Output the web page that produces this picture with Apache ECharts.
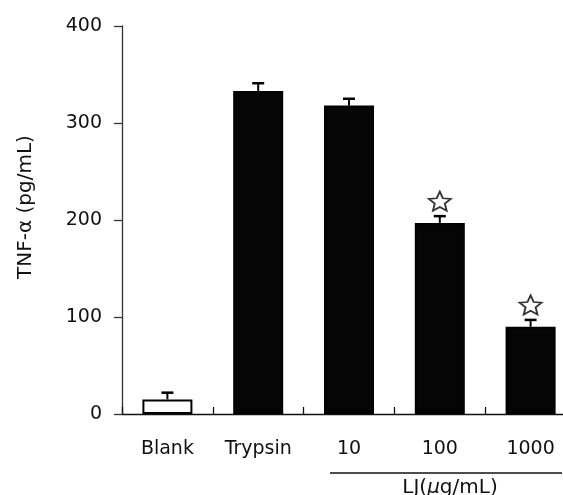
<!DOCTYPE html>
<html>
<head>
<meta charset="utf-8">
<script src="https://cdn.jsdelivr.net/npm/echarts@6/dist/echarts.min.js"></script>
<style>
  html, body { margin: 0; padding: 0; background: #fff; overflow: hidden; }
  #chart { width: 576px; height: 495px; }
</style>
</head>
<body>
<div id="chart"></div>
<script>
var categories = ['Blank', 'Trypsin', '10', '100', '1000'];
var means = [15, 333, 318, 197, 90];
var errors = [7, 8, 7, 7, 7];
var significant = [false, false, false, true, true];
var yTicks = [0, 100, 200, 300, 400];

var FONT = 'DejaVu Sans';

// five armed outline star, built as a symbol path
function starPath() {
  var pts = [];
  for (var i = 0; i < 10; i++) {
    var r = i % 2 === 0 ? 10 : 4.6;
    var a = -Math.PI / 2 + i * Math.PI / 5;
    pts.push((r * Math.cos(a)).toFixed(2) + ' ' + (r * Math.sin(a)).toFixed(2));
  }
  return 'path://M' + pts.join(' L') + ' Z';
}

var barData = means.map(function (v, i) {
  return {
    value: v,
    itemStyle: i === 0 ? { color: '#fff', borderColor: '#000', borderWidth: 2 } : {}
  };
});

var errData = means.map(function (v, i) { return [i, v, v + errors[i]]; });

var starData = [];
significant.forEach(function (s, i) {
  if (s) starData.push([categories[i], means[i] + errors[i]]);
});

var chart = echarts.init(document.getElementById('chart'));

chart.setOption({
  animation: false,
  backgroundColor: '#fff',
  grid: { left: 122, right: 0, top: 26, bottom: 81 },
  xAxis: {
    type: 'category',
    data: categories,
    axisLine: { lineStyle: { color: '#111', width: 1.3 } },
    axisTick: { show: true, inside: true, length: 7, lineStyle: { color: '#111', width: 1.3 } },
    axisLabel: { color: '#111', fontFamily: FONT, fontSize: 19, margin: 26 },
    splitLine: { show: false }
  },
  yAxis: {
    type: 'value',
    min: yTicks[0],
    max: yTicks[yTicks.length - 1],
    interval: 100,
    axisLine: { show: true, lineStyle: { color: '#333', width: 1.3 } },
    axisTick: { show: true, length: 8, lineStyle: { color: '#333', width: 1.3 } },
    axisLabel: { color: '#111', fontFamily: FONT, fontSize: 19, margin: 20 },
    splitLine: { show: false }
  },
  graphic: [
    {
      type: 'text', x: 26, y: 207, rotation: Math.PI / 2,
      style: { text: 'TNF-α (pg/mL)', fill: '#111', font: '20px "DejaVu Sans"', align: 'center', verticalAlign: 'middle' }
    },
    { type: 'line', shape: { x1: 330, y1: 473, x2: 562, y2: 473 }, style: { stroke: '#111', lineWidth: 1.5 } },
    {
      type: 'text', x: 450, y: 478,
      style: {
        text: 'LJ({i|μ}g/mL)', fill: '#111', font: '20px "DejaVu Sans"', align: 'center', verticalAlign: 'top',
        rich: { i: { fontStyle: 'italic', fontFamily: FONT, fontSize: 20, fill: '#111' } }
      }
    }
  ],
  series: [
    {
      type: 'bar',
      data: barData,
      barWidth: 50,
      itemStyle: { color: '#050505', borderColor: '#000', borderWidth: 1.5 },
      z: 2
    },
    {
      type: 'custom',
      data: errData,
      z: 3,
      renderItem: function (params, api) {
        var lo = api.coord([api.value(0), api.value(1)]);
        var hi = api.coord([api.value(0), api.value(2)]);
        return {
          type: 'group',
          children: [
            { type: 'line', shape: { x1: lo[0], y1: lo[1], x2: hi[0], y2: hi[1] }, style: { stroke: '#000', lineWidth: 2 } },
            { type: 'line', shape: { x1: hi[0] - 6, y1: hi[1], x2: hi[0] + 6, y2: hi[1] }, style: { stroke: '#000', lineWidth: 2.5 } }
          ]
        };
      }
    },
    {
      type: 'scatter',
      data: starData,
      symbol: starPath(),
      symbolSize: [22, 19],
      symbolOffset: [0, -15],
      itemStyle: { color: '#fff', borderColor: '#000', borderWidth: 1.8 },
      z: 4
    }
  ]
});
</script>
</body>
</html>
